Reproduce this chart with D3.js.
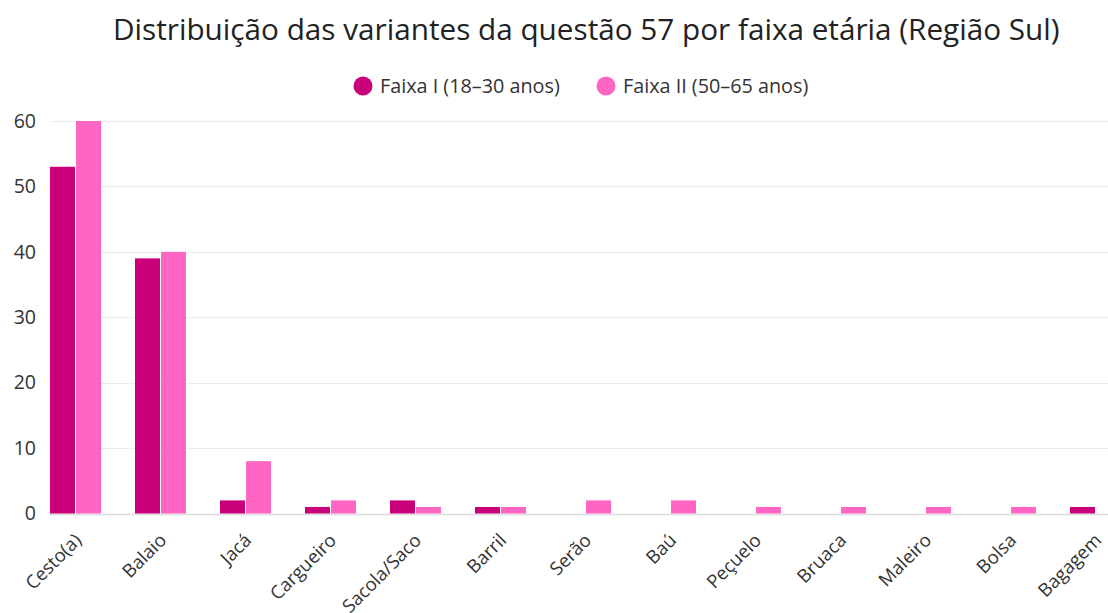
<!DOCTYPE html>
<html>
<head>
<meta charset="utf-8">
<script src="https://cdn.jsdelivr.net/npm/d3@7"></script>
<style>
	body { margin: 0; background: #fff; }
	svg { display: block; }
	svg text { font-family: "Open Sans", "Noto Sans", sans-serif; }
</style>
</head>
<body>
<svg id="chart"></svg>
<script>
//categories and series
const categories = ["Cesto(a)", "Balaio", "Jacá", "Cargueiro", "Sacola/Saco", "Barril", "Serão", "Baú", "Peçuelo", "Bruaca", "Maleiro", "Bolsa", "Bagagem"];
const faixaI = [53, 39, 2, 1, 2, 1, 0, 0, 0, 0, 0, 0, 1];
const faixaII = [60, 40, 8, 2, 1, 1, 2, 2, 1, 1, 1, 1, 0];
const seriesNames = ["Faixa I (18–30 anos)", "Faixa II (50–65 anos)"];
const yTicks = [0, 10, 20, 30, 40, 50, 60];
const title = "Distribuição das variantes da questão 57 por faixa etária (Região Sul)";

const width = 1108, height = 613;
const colors = ["#c9007a", "#ff66c4"];

const svg = d3.select("#chart").attr("width", width).attr("height", height);

//x scale runs past the right edge, like the original picture is cropped
const x = d3.scaleBand().domain(categories).range([50, 1121]).paddingInner(0.4).paddingOuter(0);
const xSub = d3.scaleBand().domain([0, 1]).range([0, x.bandwidth()]).paddingInner(0.04);
const y = d3.scaleLinear().domain([0, 60]).range([513.5, 121]);

//grid lines
svg.append("g")
	.selectAll("line")
	.data(yTicks)
	.enter()
	.append("line")
	.attr("x1", 50)
	.attr("x2", width)
	.attr("y1", (d) => Math.round(y(d)) + 0.5)
	.attr("y2", (d) => Math.round(y(d)) + 0.5)
	.attr("stroke", (d) => (d == 0 ? "#dcdcdc" : "#ececec"))
	.attr("stroke-width", (d) => (d == 0 ? 1.5 : 1));

//y axis labels
const yAxis = svg.append("g")
	.attr("transform", "translate(36,0)")
	.call(d3.axisLeft(y).tickValues(yTicks).tickSize(0).tickPadding(0));
yAxis.select(".domain").remove();
yAxis.selectAll("text")
	.attr("font-size", 19.5)
	.attr("fill", "#333")
	.style("font-family", "'Open Sans', sans-serif");

//bars
const rows = categories.map((c, i) => ({ cat: c, vals: [faixaI[i], faixaII[i]] }));
svg.append("g")
	.selectAll("g")
	.data(rows)
	.enter()
	.append("g")
	.attr("transform", (d) => `translate(${x(d.cat)},0)`)
	.selectAll("rect")
	.data((d) => d.vals.map((v, k) => ({ v: v, k: k })))
	.enter()
	.append("rect")
	.filter((d) => d.v > 0)
	.attr("x", (d) => xSub(d.k))
	.attr("width", xSub.bandwidth())
	.attr("y", (d) => y(d.v))
	.attr("height", (d) => y(0) - y(d.v))
	.attr("fill", (d) => colors[d.k]);

//x axis labels, rotated
svg.append("g")
	.selectAll("text")
	.data(categories)
	.enter()
	.append("text")
	.attr("transform", (d) => `translate(${x(d) + x.bandwidth() / 2 + 7},${y(0) + 28}) rotate(-45)`)
	.attr("text-anchor", "end")
	.attr("font-size", 18.5)
	.attr("fill", "#333")
	.text((d) => d);

//title, sized to the width it has in the reference
const titleText = svg.append("text")
	.attr("x", 113)
	.attr("y", 40)
	.attr("font-size", 28)
	.attr("fill", "#222")
	.text(title);
const tw = titleText.node().getComputedTextLength();
titleText.attr("font-size", 28 * 947 / tw);

//legend
const legend = svg.append("g").attr("fill", "#333");
const legendX = [363, 606];
seriesNames.forEach((name, i) => {
	legend.append("circle")
		.attr("cx", legendX[i])
		.attr("cy", 86)
		.attr("r", 9.5)
		.attr("fill", colors[i]);
	legend.append("text")
		.attr("x", legendX[i] + 17)
		.attr("y", 86)
		.attr("dy", "0.35em")
		.attr("font-size", 19.8)
		.text(name);
});
</script>
</body>
</html>
